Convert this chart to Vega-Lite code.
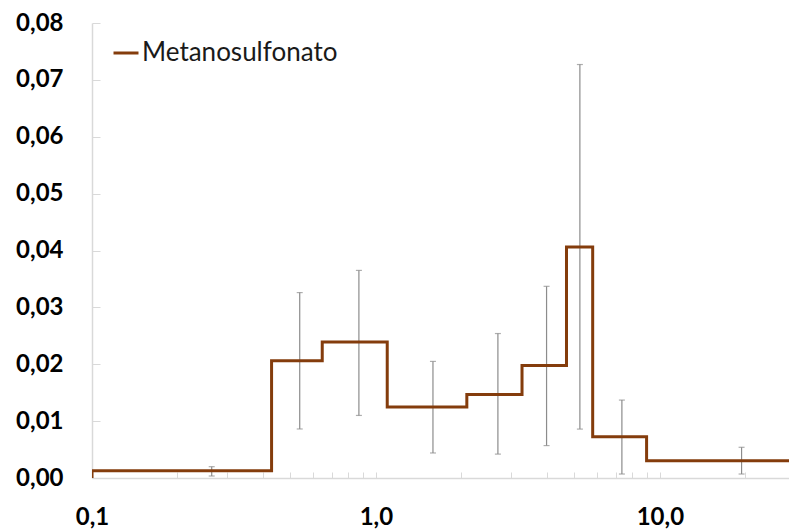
{
  "$schema": "https://vega.github.io/schema/vega-lite/v6.json",
  "autosize": {"type": "none"},
  "width": 697,
  "height": 455,
  "padding": {"left": 92, "top": 23, "right": 0, "bottom": 53},
  "background": "white",
  "config": {
    "view": {"stroke": null},
    "font": "Lato",
    "axis": {"grid": false, "domainColor": "#d9d9d9", "tickColor": "#d9d9d9", "domainWidth": 1.5, "tickWidth": 1, "labelColor": "#000000", "labelFont": "Lato", "labelFontWeight": "bold", "labelFontSize": 24, "title": null}
  },
  "datasets": {
    "step": [
      {"i": 0, "d": 0.1, "v": 0},
      {"i": 1, "d": 0.1, "v": 0.00128},
      {"i": 2, "d": 0.429, "v": 0.0206},
      {"i": 3, "d": 0.647, "v": 0.0239},
      {"i": 4, "d": 1.096, "v": 0.0125},
      {"i": 5, "d": 2.09, "v": 0.0147},
      {"i": 6, "d": 3.27, "v": 0.0198},
      {"i": 7, "d": 4.69, "v": 0.0406},
      {"i": 8, "d": 5.8, "v": 0.00727},
      {"i": 9, "d": 8.98, "v": 0.00305},
      {"i": 10, "d": 28.5, "v": 0.00305}
    ],
    "err": [
      {"d": 0.264, "lo": 0.00035, "hi": 0.00199},
      {"d": 0.539, "lo": 0.00862, "hi": 0.0326},
      {"d": 0.871, "lo": 0.011, "hi": 0.0365},
      {"d": 1.588, "lo": 0.0044, "hi": 0.0205},
      {"d": 2.689, "lo": 0.0042, "hi": 0.0254},
      {"d": 3.99, "lo": 0.0057, "hi": 0.0337},
      {"d": 5.228, "lo": 0.0086, "hi": 0.0727},
      {"d": 7.35, "lo": 0.0007, "hi": 0.0137},
      {"d": 19.4, "lo": 0.0007, "hi": 0.0054}
    ]
  },
  "layer": [
    {
      "data": {"name": "err"},
      "mark": {"type": "errorbar", "color": "#8c8c8c", "thickness": 1.2, "ticks": {"size": 6, "thickness": 1.2, "color": "#8c8c8c"}},
      "encoding": {
        "x": {"field": "d", "type": "quantitative", "title": null},
        "y": {"field": "lo", "type": "quantitative", "title": null},
        "y2": {"field": "hi"}
      }
    },
    {
      "data": {"name": "step"},
      "mark": {"type": "line", "interpolate": "step-after", "strokeWidth": 3, "clip": true},
      "encoding": {
        "x": {"field": "d", "type": "quantitative", "title": null,
          "scale": {"type": "log", "domain": [0.1, 28.5], "nice": false},
          "axis": {"title": null, "values": [0.1,0.2,0.3,0.4,0.5,0.6,0.7,0.8,0.9,1,2,3,4,5,6,7,8,9,10,20], "tickSize": -6, "labelPadding": 33, "labelOverlap": false, "labelFlush": false,
            "labelExpr": "datum.value == 0.1 ? '0,1' : datum.value == 1 ? '1,0' : datum.value == 10 ? '10,0' : ''"}},
        "y": {"field": "v", "type": "quantitative", "title": null,
          "scale": {"domain": [0, 0.08], "nice": false},
          "axis": {"title": null, "values": [0,0.01,0.02,0.03,0.04,0.05,0.06,0.07,0.08], "tickSize": -8, "labelPadding": 37,
            "labelExpr": "replace(format(datum.value, '.2f'), '.', ',')"}},
        "order": {"field": "i"},
        "color": {"datum": "Metanosulfonato", "type": "nominal",
          "scale": {"range": ["#843C0C"]},
          "legend": {"title": null, "orient": "none", "legendX": 20, "legendY": 16, "symbolType": "stroke", "symbolSize": 625, "symbolStrokeWidth": 3, "labelFontSize": 26, "labelFont": "Lato", "labelColor": "#1a1a1a", "labelOffset": 2, "labelLimit": 0}}
      }
    }
  ]
}
